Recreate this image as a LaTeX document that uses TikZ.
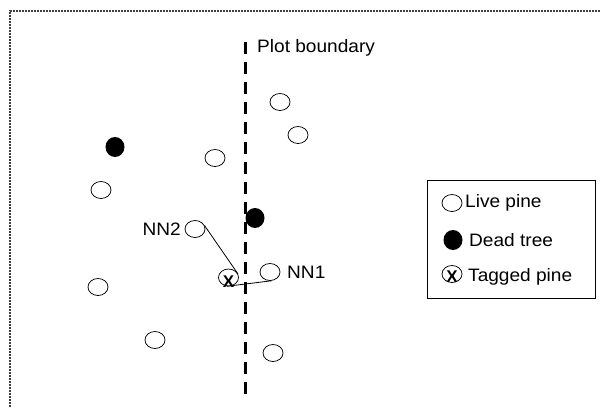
\documentclass[tikz,border=0pt]{standalone}
\usepackage{fontspec}
\setmainfont{Liberation Sans}
\usetikzlibrary{shapes.geometric}
\newcommand{\wtxt}[1]{\scalebox{1.06}[1]{#1}}
\begin{document}
\begin{tikzpicture}[x=1pt,y=-1pt,
  live/.style={draw, line width=0.75pt, ellipse, minimum width=20pt, minimum height=17pt, inner sep=0pt},
  dead/.style={fill=black, ellipse, minimum width=19pt, minimum height=20pt, inner sep=0pt},
  lbl/.style={font=\fontsize{18}{21}\selectfont, inner sep=0pt},
  xmark/.style={font=\fontsize{17}{20}\selectfont\bfseries, inner sep=0pt}]
\useasboundingbox (0,0) rectangle (601,407);
% border
\draw[black!75, line width=1.4pt, dash pattern=on 2pt off 1pt] (10,410) -- (10,11) -- (605,11);
% plot boundary
\coordinate (bt) at (245,42);
\coordinate (bb) at (245,396);
\draw[line width=3pt, dash pattern=on 12pt off 8pt] (bt) -- (bb);
\node[lbl, anchor=base west] (pb) at (257,52) {\wtxt{Plot boundary}};
% trees
\node[live] (t1) at (280,102) {};
\node[live] (t2) at (298,135) {};
\node[dead] (d1) at (115,147) {};
\node[live] (t3) at (215,158) {};
\node[live] (t4) at (101,190) {};
\node[dead] (d2) at (255,218) {};
\node[live] (nn2) at (195,229) {};
\node[live] (tag) at (228.5,277.5) {};
\node[xmark] (tagx) at (228.5,282) {X};
\node[live] (nn1) at (270,272) {};
\node[live] (t5) at (98,287) {};
\node[live] (t6) at (155,340) {};
\node[live] (t7) at (273,353) {};
\node[lbl, anchor=east] (nn2l) at (181,229) {\wtxt{NN2}};
\node[lbl, anchor=west] (nn1l) at (287,272) {\wtxt{NN1}};
% connectors
\draw[line width=0.8pt] (nn2.20) -- (tag.20);
\draw[line width=0.8pt] (tag.-100) -- (nn1.-80);
% legend
\node[draw, line width=0.8pt, minimum width=168pt, minimum height=118pt, inner sep=0pt] (leg) at (511,239) {};
\node[live] (lg1) at (452,203) {};
\node[lbl, anchor=west] (lg1t) at (465,203) {\wtxt{Live pine}};
\node[dead] (lg2) at (453,240) {};
\node[lbl, anchor=west] (lg2t) at (469,240) {\wtxt{Dead tree}};
\node[live] (lg3) at (452,274) {};
\node[xmark] (lg3x) at (452,277) {X};
\node[lbl, anchor=west] (lg3t) at (468,277) {\wtxt{Tagged pine}};
\end{tikzpicture}
\end{document}
